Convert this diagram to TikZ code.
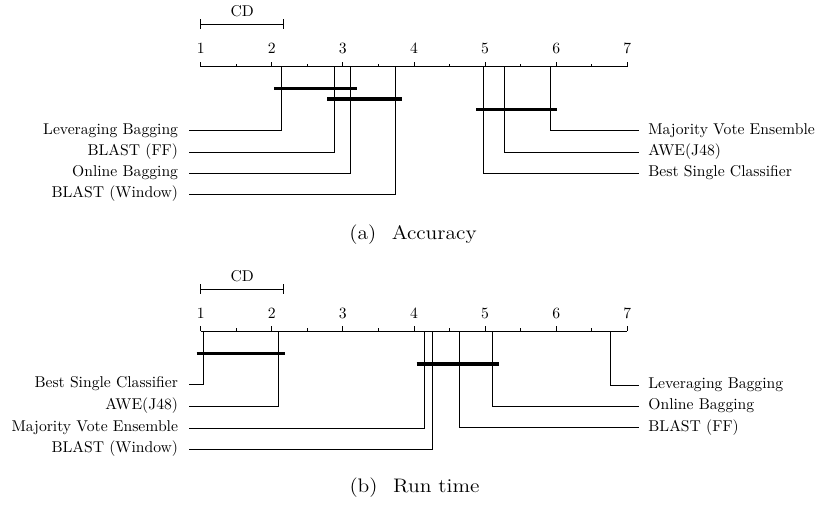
\documentclass[tikz,border=0pt]{standalone}
\begin{document}
\begin{tikzpicture}[x=0.639pt,y=-0.639pt,
  thinln/.style={line width=0.6pt},
  barln/.style={line width=2.3pt},
  num/.style={inner sep=0pt},
  lbl/.style={anchor=mid east,inner xsep=7pt,inner ysep=0pt},
  rbl/.style={anchor=mid west,inner xsep=5.8pt,inner ysep=0pt},
  captxt/.style={inner sep=0pt,font=\fontsize{12.5}{15}\selectfont}]
\useasboundingbox (0,0) rectangle (818,506);
% ================= (a) Accuracy =================
\draw[thinln] (200.7,66.5) -- (627.3,66.5);
\foreach \i in {0,...,6} \draw[thinln] ({200.7+71.1*\i},66.5) -- ++(0,-5);
\foreach \i in {0,...,5} \draw[thinln] ({236.25+71.1*\i},66.5) -- ++(0,-3);
\foreach \i [count=\n from 1] in {0,...,6} \node[num] (an\n) at ({200.7+71.1*\i},48.5) {\n};
\draw[thinln] (200.7,24) -- (283.7,24);
\draw[thinln] (200.7,19) -- (200.7,29);
\draw[thinln] (283.7,19) -- (283.7,29);
\node[inner sep=0pt] (acd) at (242.2,11) {CD};
\coordinate (aLB) at (281.7,66.5);
\coordinate (aFF) at (334.3,66.5);
\coordinate (aOB) at (350,66.5);
\coordinate (aBW) at (395.7,66.5);
\coordinate (aBS) at (483.3,66.5);
\coordinate (aAW) at (504.3,66.5);
\coordinate (aMV) at (550,66.5);
\node[lbl] (tLB) at (189.3,130.7) {Leveraging Bagging};
\node[lbl] (tFF) at (189.3,152.2) {BLAST (FF)};
\node[lbl] (tOB) at (189.3,173.0) {Online Bagging};
\node[lbl] (tBW) at (189.3,194.4) {BLAST (Window)};
\node[rbl] (tMV) at (639,130.7) {Majority Vote Ensemble};
\node[rbl] (tAW) at (639,152.2) {AWE(J48)};
\node[rbl] (tBS) at (639,173.2) {Best Single Classifier};
\draw[thinln] (aLB) |- (tLB.mid east);
\draw[thinln] (aFF) |- (tFF.mid east);
\draw[thinln] (aOB) |- (tOB.mid east);
\draw[thinln] (aBW) |- (tBW.mid east);
\draw[thinln] (aMV) |- (tMV.mid west);
\draw[thinln] (aAW) |- (tAW.mid west);
\draw[thinln] (aBS) |- (tBS.mid west);
\draw[barln] (274.3,88.3) -- (357.3,88.3);
\draw[barln] (327,99) -- (402.3,99);
\draw[barln] (476.3,109.3) -- (557.3,109.3);
\node[captxt] (capa) at (413,235) {\scalebox{1.1}[1]{(a)\hspace{0.72em}Accuracy}};
% ================= (b) Run time =================
\draw[thinln] (200.7,331) -- (627.3,331);
\foreach \i in {0,...,6} \draw[thinln] ({200.7+71.1*\i},331) -- ++(0,-5);
\foreach \i in {0,...,5} \draw[thinln] ({236.25+71.1*\i},331) -- ++(0,-3);
\foreach \i [count=\n from 1] in {0,...,6} \node[num] (bn\n) at ({200.7+71.1*\i},313.3) {\n};
\draw[thinln] (200.7,289.3) -- (283.7,289.3);
\draw[thinln] (200.7,284.3) -- (200.7,294.3);
\draw[thinln] (283.7,284.3) -- (283.7,294.3);
\node[inner sep=0pt] (bcd) at (242.2,276) {CD};
\coordinate (bBS) at (203,331);
\coordinate (bAW) at (278.3,331);
\coordinate (bMV) at (424,331);
\coordinate (bBW) at (432,331);
\coordinate (bFF) at (459,331);
\coordinate (bOB) at (492,331);
\coordinate (bLB) at (610,331);
\node[lbl] (uBS) at (189.3,384.5) {Best Single Classifier};
\node[lbl] (uAW) at (189.3,406.5) {AWE(J48)};
\node[lbl] (uMV) at (189.3,428) {Majority Vote Ensemble};
\node[lbl] (uBW) at (189.3,449.3) {BLAST (Window)};
\node[rbl] (uLB) at (639,385) {Leveraging Bagging};
\node[rbl] (uOB) at (639,406.2) {Online Bagging};
\node[rbl] (uFF) at (639,427.7) {BLAST (FF)};
\draw[thinln] (bBS) |- (uBS.mid east);
\draw[thinln] (bAW) |- (uAW.mid east);
\draw[thinln] (bMV) |- (uMV.mid east);
\draw[thinln] (bBW) |- (uBW.mid east);
\draw[thinln] (bLB) |- (uLB.mid west);
\draw[thinln] (bOB) |- (uOB.mid west);
\draw[thinln] (bFF) |- (uFF.mid west);
\draw[barln] (196.7,353.3) -- (285.3,353.3);
\draw[barln] (416.7,364) -- (499.3,364);
\node[captxt] (capb) at (414.5,488) {\scalebox{1.1}[1]{(b)\hspace{0.72em}Run time}};
\end{tikzpicture}
\end{document}
